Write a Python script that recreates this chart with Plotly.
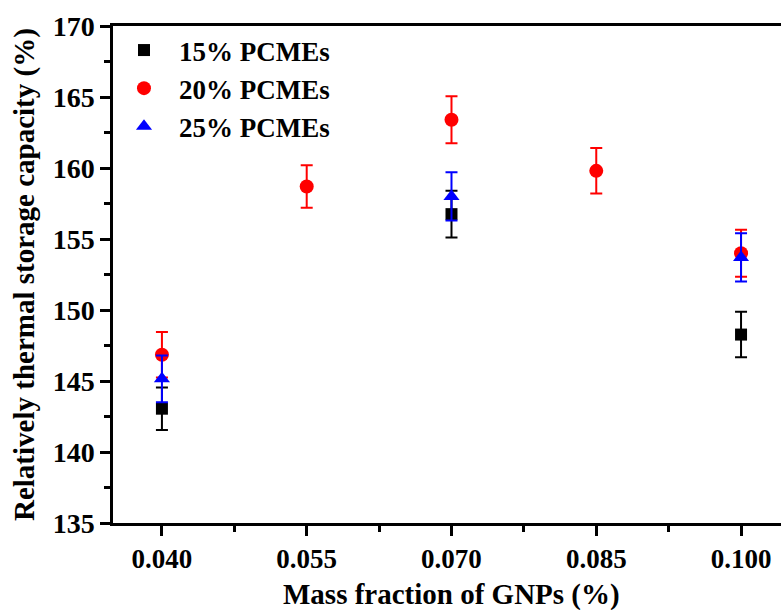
import plotly.graph_objects as go

x15 = [0.040, 0.070, 0.100]
y15 = [143.05, 156.75, 148.27]
e15 = [1.5, 1.65, 1.6]

x20 = [0.040, 0.055, 0.070, 0.085, 0.100]
y20 = [146.85, 158.7, 163.4, 159.8, 154.0]
e20 = [1.6, 1.5, 1.65, 1.6, 1.65]

x25 = [0.040, 0.070, 0.100]
y25 = [145.15, 158.0, 153.7]
e25 = [1.65, 1.7, 1.7]

series = [
    ("15% PCMEs", x15, y15, e15, "black", "square", 12),
    ("20% PCMEs", x20, y20, e20, "red", "circle", 14),
    ("25% PCMEs", x25, y25, e25, "blue", "triangle-up", 14),
]

FONT = "Liberation Serif"
fig = go.Figure()
for name, xs, ys, es, col, sym, sz in series:
    fig.add_trace(go.Scatter(
        x=xs, y=ys, mode="markers", name="<b>" + name + "</b>",
        marker=dict(color=col, symbol=sym, size=sz, line=dict(width=0)),
        error_y=dict(type="data", array=es, visible=True, color=col, thickness=2, width=6),
    ))

xt = [0.040, 0.055, 0.070, 0.085, 0.100]
yt = [135, 140, 145, 150, 155, 160, 165, 170]

fig.update_layout(
    width=781, height=610,
    margin=dict(l=113, r=0, t=26, b=87),
    paper_bgcolor="white", plot_bgcolor="white",
    font=dict(family=FONT, color="black", size=24),
    showlegend=True,
    legend=dict(x=-0.006, y=1.0, xanchor="left", yanchor="top",
                font=dict(family=FONT, size=27),
                bgcolor="rgba(0,0,0,0)", itemwidth=60, tracegroupgap=0),
    xaxis=dict(range=[0.03493, 0.10414], tickvals=xt,
               ticktext=["<b>%.3f</b>" % v for v in xt],
               showline=True, linecolor="black", linewidth=2.5, mirror=True,
               ticks="outside", ticklen=10, tickwidth=2.5, tickcolor="black",
               minor=dict(tickvals=[0.0475, 0.0625, 0.0775, 0.0925], ticks="outside", ticklen=6, tickwidth=2.5, tickcolor="black"),
               showgrid=False, zeroline=False,
               tickfont=dict(family=FONT, size=27)),
    yaxis=dict(range=[135, 170], tickvals=yt, ticktext=["<b>%d</b>" % v for v in yt],
               showline=True, linecolor="black", linewidth=2.5, mirror=False,
               ticks="outside", ticklen=10, tickwidth=2.5, tickcolor="black",
               minor=dict(dtick=2.5, ticks="outside", ticklen=6, tickwidth=2.5, tickcolor="black"),
               showgrid=False, zeroline=False,
               tickfont=dict(family=FONT, size=28)),
    annotations=[
        dict(text="<b>Mass fraction of GNPs (%)</b>", xref="paper", yref="paper",
             x=(451 - 113) / 668, y=-(594 - 523) / 497, xanchor="center", yanchor="middle",
             showarrow=False, font=dict(family=FONT, size=29)),
        dict(text="<b>Relatively thermal storage capacity (%)</b>", xref="paper", yref="paper",
             x=-(113 - 24) / 668, y=(523 - 275) / 497, xanchor="center", yanchor="middle",
             textangle=-90, showarrow=False, font=dict(family=FONT, size=29)),
    ],
)

fig.write_html("out.html")
